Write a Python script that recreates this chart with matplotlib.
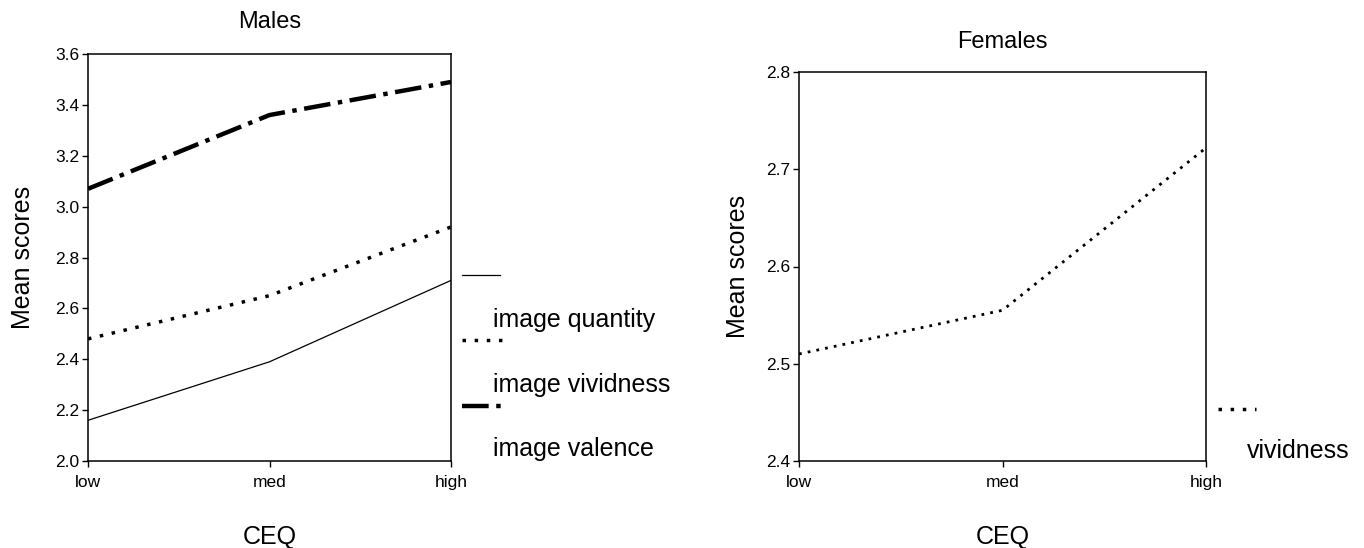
import matplotlib
matplotlib.use("Agg")
import matplotlib.pyplot as plt
from matplotlib.lines import Line2D

plt.rcParams['font.family'] = ['Liberation Sans', 'DejaVu Sans']

# data
ceq_levels = ["low", "med", "high"]
male_quantity = [2.16, 2.39, 2.71]
male_vividness = [2.48, 2.65, 2.92]
male_valence = [3.07, 3.36, 3.49]
female_vividness = [2.51, 2.555, 2.722]

male_yticks = [2.0, 2.2, 2.4, 2.6, 2.8, 3.0, 3.2, 3.4, 3.6]
female_yticks = [2.4, 2.5, 2.6, 2.7, 2.8]

W, H = 1364, 548
fig = plt.figure(figsize=(W / 100, H / 100), dpi=100)

def px_box(left, top, right, bottom):
    return [left / W, 1 - bottom / H, (right - left) / W, (bottom - top) / H]

solid = dict(color="black", lw=0.9, linestyle="-")
dotted_m = dict(color="black", lw=2.5, linestyle=(0, (1, 2.5)))
dashdot = dict(color="black", lw=3.2, linestyle=(0, (6, 1.7, 1, 1.7)))
dotted_f = dict(color="black", lw=2.0, linestyle=(0, (1, 2.2)))

def style_axes(ax, yticks):
    x = range(len(ceq_levels))
    ax.set_xlim(0, len(ceq_levels) - 1)
    ax.set_xticks(list(x))
    ax.set_xticklabels(ceq_levels)
    ax.set_ylim(yticks[0], yticks[-1])
    ax.set_yticks(yticks)
    ax.set_yticklabels(["%.1f" % v for v in yticks])
    ax.tick_params(direction="out", length=4, width=1, labelsize=12.5)
    ax.tick_params(axis="x", pad=6)
    ax.tick_params(axis="y", pad=2)
    for sp in ax.spines.values():
        sp.set_linewidth(1.1)
    ax.set_xlabel("CEQ", fontsize=18)
    ax.set_ylabel("Mean scores", fontsize=18)

# Males
ax1 = fig.add_axes(px_box(88, 54, 451, 461))
xs = list(range(len(ceq_levels)))
ax1.plot(xs, male_quantity, **solid)
ax1.plot(xs, male_vividness, **dotted_m)
ax1.plot(xs, male_valence, **dashdot)
style_axes(ax1, male_yticks)
ax1.set_title("Males", fontsize=17, pad=19)
ax1.xaxis.set_label_coords(0.5, -0.158)
ax1.yaxis.set_label_coords(-0.145, 0.5)

# Females
ax2 = fig.add_axes(px_box(799, 72, 1206, 461))
ax2.plot(xs, female_vividness, **dotted_f)
style_axes(ax2, female_yticks)
ax2.set_title("Females", fontsize=17, pad=17)
ax2.xaxis.set_label_coords(0.5, -0.165)
ax2.yaxis.set_label_coords(-0.12, 0.5)

# legends: sample line on one row, label below it
def legend_item(x0, x1, y_line, tx, ty, label, style):
    fig.add_artist(Line2D([x0 / W, x1 / W], [1 - y_line / H, 1 - y_line / H], **style))
    fig.text(tx / W, 1 - ty / H, label, fontsize=18, va="baseline", ha="left")

legend_item(462, 500, 275, 493, 327, "image quantity", solid)
legend_item(462, 502, 340, 493, 392, "image vividness", dotted_m)
legend_item(462, 502, 406, 493, 456, "image valence", dashdot)
legend_item(1218, 1256, 409, 1247, 458, "vividness", dotted_m)

fig.savefig("out.png", dpi=100)
